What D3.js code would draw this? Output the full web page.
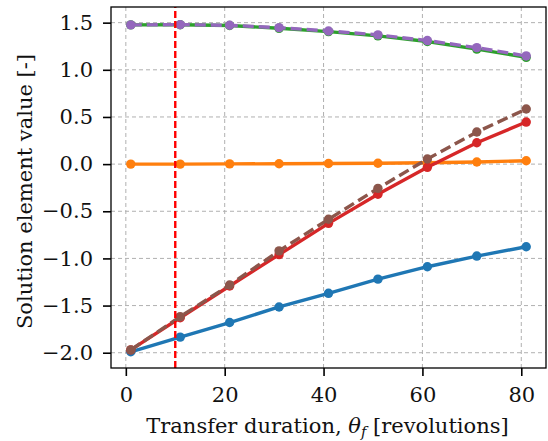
<!DOCTYPE html>
<html>
<head>
<meta charset="utf-8">
<script src="https://cdn.jsdelivr.net/npm/d3@7"></script>
<style>
  body { margin: 0; background: #fff; }
  text { font-family: "DejaVu Serif", serif; }
</style>
</head>
<body>
<script>
// data
var revs = [1, 11, 21, 31, 41, 51, 61, 71, 81];
var blueVals   = [-1.99, -1.835, -1.68, -1.515, -1.37, -1.22, -1.088, -0.975, -0.876];
var orangeVals = [0.0, 0.0, 0.002, 0.004, 0.006, 0.009, 0.014, 0.022, 0.036];
var greenVals  = [1.476, 1.478, 1.47, 1.44, 1.405, 1.36, 1.30, 1.22, 1.132];
var redVals    = [-1.97, -1.629, -1.293, -0.96, -0.628, -0.32, -0.034, 0.227, 0.446];
var purpleVals = [1.476, 1.479, 1.472, 1.447, 1.412, 1.37, 1.31, 1.235, 1.147];
var brownVals  = [-1.97, -1.618, -1.282, -0.92, -0.585, -0.257, 0.054, 0.34, 0.584];
var xTicks = [0, 20, 40, 60, 80];
var yTicks = [-2.0, -1.5, -1.0, -0.5, 0.0, 0.5, 1.0, 1.5];
var markerRev = 10;

var series = [
  {vals: blueVals,   color: "#1f77b4", dashed: false},
  {vals: orangeVals, color: "#ff7f0e", dashed: false},
  {vals: greenVals,  color: "#2ca02c", dashed: false},
  {vals: redVals,    color: "#d62728", dashed: false},
  {vals: purpleVals, color: "#9467bd", dashed: true},
  {vals: brownVals,  color: "#8c564b", dashed: true}
];

// set up dimensions
var width = 548,
    height = 441;
var margin = {left: 111, right: 2, top: 7, bottom: 73};
var fontSize = "21px";

var svg = d3.select("body")
            .append("svg")
            .attr("width", width)
            .attr("height", height);

var x = d3.scaleLinear().domain([-3, 85]).range([margin.left, width - margin.right]);
var y = d3.scaleLinear().domain([-2.162, 1.666]).range([height - margin.bottom, margin.top]);

var fmt = function(d) { return d.toFixed(1).replace("-", "\u2212"); };

// grid
var grid = svg.append("g")
    .attr("stroke", "#b0b0b0")
    .attr("stroke-width", 1)
    .attr("stroke-dasharray", "4,3");
grid.selectAll(".gx").data(xTicks).enter().append("line")
    .attr("x1", function(d) { return x(d); }).attr("x2", function(d) { return x(d); })
    .attr("y1", y.range()[0]).attr("y2", y.range()[1]);
grid.selectAll(".gy").data(yTicks).enter().append("line")
    .attr("y1", function(d) { return y(d); }).attr("y2", function(d) { return y(d); })
    .attr("x1", x.range()[0]).attr("x2", x.range()[1]);

// series lines + markers
var line = d3.line()
    .x(function(d, i) { return x(revs[i]); })
    .y(function(d) { return y(d); });

series.forEach(function(s) {
  var g = svg.append("g");
  g.append("path")
      .attr("d", line(s.vals))
      .attr("fill", "none")
      .attr("stroke", s.color)
      .attr("stroke-width", 3.4)
      .attr("stroke-dasharray", s.dashed ? "11,5" : null);
  g.selectAll("circle")
      .data(s.vals)
      .enter()
      .append("circle")
      .attr("cx", function(d, i) { return x(revs[i]); })
      .attr("cy", function(d) { return y(d); })
      .attr("r", 4.7)
      .attr("fill", s.color);
});

// vertical marker line
svg.append("line")
    .attr("x1", x(markerRev)).attr("x2", x(markerRev))
    .attr("y1", y.range()[0]).attr("y2", y.range()[1])
    .attr("stroke", "#ff0000")
    .attr("stroke-width", 2.4)
    .attr("stroke-dasharray", "7,3");

// axes
var xAxis = svg.append("g")
    .attr("transform", "translate(0," + y.range()[0] + ")")
    .call(d3.axisBottom(x).tickValues(xTicks).tickSize(8).tickPadding(11).tickFormat(d3.format("d")));
var yAxis = svg.append("g")
    .attr("transform", "translate(" + x.range()[0] + ",0)")
    .call(d3.axisLeft(y).tickValues(yTicks).tickSize(8).tickPadding(10).tickFormat(fmt));

[xAxis, yAxis].forEach(function(a) {
  a.select(".domain").remove();
  a.selectAll(".tick line").attr("stroke", "#000").attr("stroke-width", 1.6);
  a.selectAll(".tick text").attr("fill", "#111").style("font-size", fontSize).style("font-family", "DejaVu Serif");
});

// frame
svg.append("rect")
    .attr("x", x.range()[0]).attr("y", y.range()[1])
    .attr("width", x.range()[1] - x.range()[0])
    .attr("height", y.range()[0] - y.range()[1])
    .attr("fill", "none")
    .attr("stroke", "#000")
    .attr("stroke-width", 1.3);

// axis labels
var xl = svg.append("text")
    .attr("x", (x.range()[0] + x.range()[1]) / 2 - 1)
    .attr("y", 433)
    .attr("text-anchor", "middle")
    .attr("fill", "#111")
    .style("font-size", fontSize);
xl.append("tspan").text("Transfer duration, ");
xl.append("tspan").attr("font-style", "italic").text("\u03b8");
xl.append("tspan").attr("font-style", "italic").attr("dy", 4).style("font-size", "14.5px").text("f");
xl.append("tspan").attr("dy", -4).text(" [revolutions]");

svg.append("text")
    .attr("transform", "translate(32," + ((y.range()[0] + y.range()[1]) / 2 + 4) + ") rotate(-90)")
    .attr("text-anchor", "middle")
    .attr("fill", "#111")
    .style("font-size", fontSize)
    .text("Solution element value [-]");
</script>
</body>
</html>
